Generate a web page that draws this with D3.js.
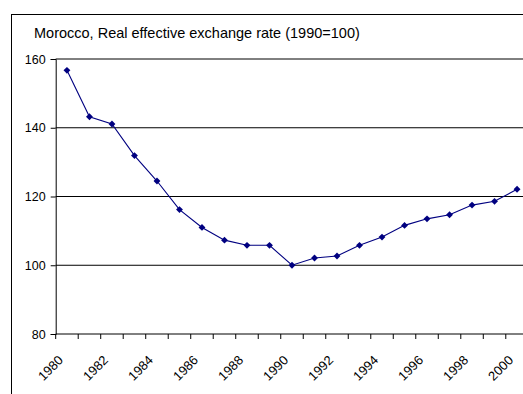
<!DOCTYPE html>
<html>
<head>
<meta charset="utf-8">
<script src="https://cdn.jsdelivr.net/npm/d3@7"></script>
<style>
  html, body { margin: 0; padding: 0; background: #fff; }
  svg { display: block; font-family: Arial, "Liberation Sans", sans-serif; }
</style>
</head>
<body>
<svg id="chart" width="523" height="394"></svg>
<script>
// Real effective exchange rate index, Morocco (1990 = 100)
const years = [1980, 1981, 1982, 1983, 1984, 1985, 1986, 1987, 1988, 1989, 1990,
               1991, 1992, 1993, 1994, 1995, 1996, 1997, 1998, 1999, 2000];
const reer = [156.7, 143.2, 141.1, 131.9, 124.5, 116.2, 111.0, 107.3, 105.8, 105.8, 100.0,
              102.1, 102.7, 105.8, 108.2, 111.6, 113.5, 114.7, 117.5, 118.6, 122.1];
const yTicks = [80, 100, 120, 140, 160];
const xLabelYears = [1980, 1982, 1984, 1986, 1988, 1990, 1992, 1994, 1996, 1998, 2000];
const title = "Morocco, Real effective exchange rate (1990=100)";

const svg = d3.select("#chart");
const W = 523, H = 394;

// outer chart frame (runs past the right and bottom edges of the view)
svg.append("rect")
  .attr("x", 11.5).attr("y", 14.5)
  .attr("width", W + 20).attr("height", H + 20)
  .attr("fill", "#fff").attr("stroke", "#000").attr("stroke-width", 1);

svg.append("text")
  .attr("x", 34).attr("y", 38)
  .attr("font-size", 14.5).attr("fill", "#000")
  .text(title);

const plot = { left: 55.7, right: 528.3, top: 59, bottom: 334 };

const x = d3.scaleBand().domain(years).range([plot.left, plot.right]).paddingInner(0).paddingOuter(0);
const y = d3.scaleLinear().domain([80, 160]).range([plot.bottom, plot.top]);

// horizontal gridlines
svg.append("g").selectAll("line").data(yTicks.filter(d => d > 80)).join("line")
  .attr("x1", plot.left).attr("x2", plot.right)
  .attr("y1", d => y(d)).attr("y2", d => y(d))
  .attr("stroke", "#000").attr("stroke-width", 1);

// y axis
const yAxis = svg.append("g")
  .attr("transform", `translate(${plot.left},0)`)
  .call(d3.axisLeft(y).tickValues(yTicks).tickSize(5).tickPadding(5).tickFormat(d3.format("d")));
yAxis.select(".domain").attr("stroke", "#000");
yAxis.selectAll(".tick line").attr("stroke", "#000");
yAxis.selectAll(".tick text").attr("font-size", 12.5).attr("fill", "#000")
  .attr("font-family", "Arial, 'Liberation Sans', sans-serif");

// x axis: ticks on category boundaries
const bounds = years.map(d => x(d)).concat([x(years[years.length - 1]) + x.bandwidth()]);
const xg = svg.append("g");
xg.append("line")
  .attr("x1", plot.left).attr("x2", plot.right)
  .attr("y1", plot.bottom).attr("y2", plot.bottom)
  .attr("stroke", "#000");
xg.selectAll("line.tk").data(bounds).join("line").attr("class", "tk")
  .attr("x1", d => d).attr("x2", d => d)
  .attr("y1", plot.bottom).attr("y2", plot.bottom + 5)
  .attr("stroke", "#000");
xg.selectAll("text").data(xLabelYears).join("text")
  .attr("transform", d => `translate(${x(d) + x.bandwidth() / 2 - 3},${plot.bottom + 27}) rotate(-45)`)
  .attr("text-anchor", "end")
  .attr("font-size", 13).attr("fill", "#000")
  .text(d => d);

// series line and diamond markers
const cx = d => x(d) + x.bandwidth() / 2;
svg.append("path")
  .datum(years.map((yr, i) => [yr, reer[i]]))
  .attr("fill", "none").attr("stroke", "#000080").attr("stroke-width", 1.1)
  .attr("d", d3.line().x(d => cx(d[0])).y(d => y(d[1])));

svg.append("g").selectAll("path").data(years.map((yr, i) => [yr, reer[i]])).join("path")
  .attr("transform", d => `translate(${cx(d[0])},${y(d[1])})`)
  .attr("d", d3.symbol().type(d3.symbolDiamond2).size(30))
  .attr("fill", "#000080");
</script>
</body>
</html>
